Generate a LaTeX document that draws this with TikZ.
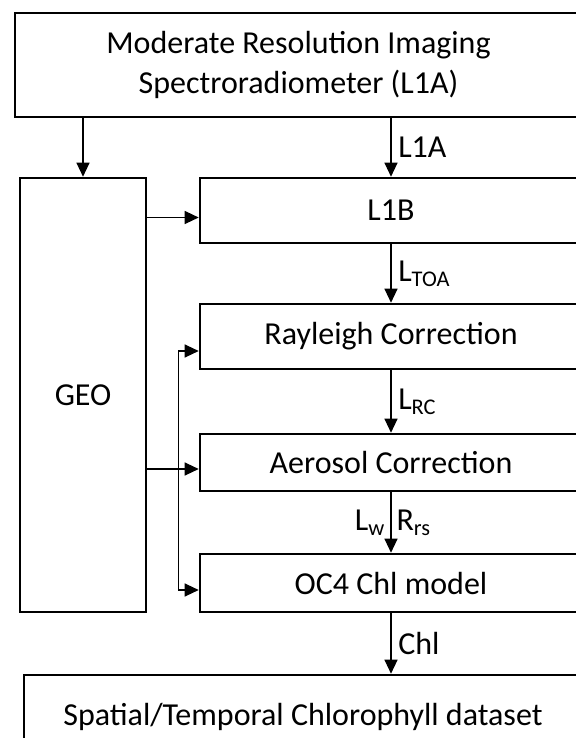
\documentclass[tikz,border=0pt]{standalone}
\usepackage{fontspec}
\setmainfont{Carlito}
\usetikzlibrary{arrows.meta}

\begin{document}
\begin{tikzpicture}[x=0.5pt,y=-0.5pt,>={Triangle[length=7pt,width=6.5pt]},
  box/.style={draw,line width=1.3pt,inner sep=0pt},
  flow/.style={->,line width=0.6pt},
  every node/.style={font=\fontsize{16}{20}\selectfont}]
  \useasboundingbox (0,0) rectangle (576,738);
  \node[box,minimum width=283.5pt,minimum height=52pt,align=center] (modis) at (298.5,65) {Moderate Resolution Imaging\\Spectroradiometer (L1A)};
  \node[box,minimum width=63pt,minimum height=217pt] (geo) at (83,395) {GEO};
  \node[box,minimum width=191pt,minimum height=32.5pt] (l1b) at (391,210.5) {L1B};
  \node[box,minimum width=191pt,minimum height=32.5pt] (ray) at (391,336.5) {Rayleigh Correction};
  \node[box,minimum width=191pt,minimum height=28.5pt] (aer) at (391,462.5) {Aerosol Correction};
  \node[box,minimum width=191pt,minimum height=29pt] (oc4) at (391,583) {OC4 Chl model};
  \node[box,minimum width=279pt,minimum height=42pt] (out) at (303,717) {Spatial/Temporal Chlorophyll dataset};
  \draw[flow] (modis.south -| geo.north) -- (geo.north);
  \draw[flow] (modis.south -| l1b.north) -- node[right] {L1A} (l1b.north);
  \draw[flow] (l1b) -- node[right] {L\textsubscript{TOA}} (ray);
  \draw[flow] (ray) -- node[right] {L\textsubscript{RC}} (aer);
  \draw[flow] (aer) -- node[left,inner sep=2.5pt] {L\textsubscript{w}} node[right,inner sep=2.5pt] {R\textsubscript{rs}} (oc4);
  \draw[flow] (oc4.south) -- node[right] {Chl} (oc4.south |- out.north);
  \coordinate (in1) at ([yshift=-3.5pt]l1b.west);
  \coordinate (in2) at ([yshift=-3.25pt]aer.west);
  \coordinate (fork) at ([xshift=-10pt]in2);
  \draw[flow] (geo.east |- in1) -- (in1);
  \draw[flow] (geo.east |- in2) -- (in2);
  \draw[flow] (fork) |- ([yshift=-7.25pt]ray.west);
  \draw[flow] (fork) |- ([yshift=-3.5pt]oc4.west);
\end{tikzpicture}
\end{document}
